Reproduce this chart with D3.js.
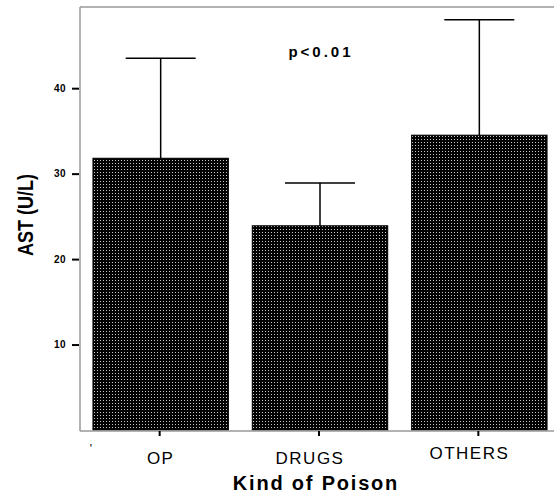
<!DOCTYPE html>
<html lang="en">
<head>
<meta charset="UTF-8">
<title>AST by Kind of Poison</title>
<script src="https://d3js.org/d3.v7.min.js"></script>
<style>
  body {margin:0; background:#fff;}
  text {font-family: Arial, "Liberation Sans", sans-serif;}
</style>
</head>
<body>
<div id="chart"></div>
<script>
// data
var kinds = ["OP", "DRUGS", "OTHERS"];
var means = [31.8, 23.9, 34.5];
var upper = [43.5, 28.9, 48.0];
var yTicks = [10, 20, 30, 40];

var w = 554, h = 498;
var pLeft = 80, pTop = 7, pBottom = 431, pRight = 554;

var svg = d3.select("#chart").append("svg")
    .attr("width", w)
    .attr("height", h);

// dotted fill like the original bars
var defs = svg.append("defs");
var pat = defs.append("pattern")
    .attr("id", "dots")
    .attr("width", 3).attr("height", 3)
    .attr("patternUnits", "userSpaceOnUse");
pat.append("rect").attr("width", 3).attr("height", 3).attr("fill", "#000");
pat.append("rect").attr("x", 1).attr("y", 1).attr("width", 1).attr("height", 1).attr("fill", "#c8c8c8");

var x = d3.scaleBand().domain(kinds).range([pLeft + 1, 559]).paddingInner(0.15).paddingOuter(0.075);
var y = d3.scaleLinear().domain([0, 49.5]).range([pBottom - 1, pTop]);

// frame
svg.append("line").attr("x1", pLeft).attr("x2", pRight).attr("y1", pTop).attr("y2", pTop)
    .attr("stroke", "#999").attr("stroke-width", 1.5);
svg.append("line").attr("x1", pLeft).attr("x2", pLeft).attr("y1", pTop).attr("y2", pBottom)
    .attr("stroke", "#999").attr("stroke-width", 1.5);

// bars
svg.selectAll("rect.bar").data(kinds).enter().append("rect")
    .attr("class", "bar")
    .attr("x", function(d) {return x(d);})
    .attr("y", function(d, i) {return y(means[i]);})
    .attr("width", x.bandwidth())
    .attr("height", function(d, i) {return y(0) - y(means[i]);})
    .attr("fill", "url(#dots)")
    .attr("stroke", "#000")
    .attr("stroke-width", 1);

// error bars
var capW = 35;
svg.selectAll("line.err").data(kinds).enter().append("line")
    .attr("class", "err")
    .attr("x1", function(d) {return x(d) + x.bandwidth() / 2;})
    .attr("x2", function(d) {return x(d) + x.bandwidth() / 2;})
    .attr("y1", function(d, i) {return y(means[i]);})
    .attr("y2", function(d, i) {return y(upper[i]);})
    .attr("stroke", "#000").attr("stroke-width", 1.5);
svg.selectAll("line.cap").data(kinds).enter().append("line")
    .attr("class", "cap")
    .attr("x1", function(d) {return x(d) + x.bandwidth() / 2 - capW;})
    .attr("x2", function(d) {return x(d) + x.bandwidth() / 2 + capW;})
    .attr("y1", function(d, i) {return y(upper[i]);})
    .attr("y2", function(d, i) {return y(upper[i]);})
    .attr("stroke", "#000").attr("stroke-width", 1.5);

// y axis
var yAxis = d3.axisLeft(y).tickValues(yTicks).tickSize(7).tickPadding(6);
var gy = svg.append("g").attr("transform", "translate(" + (pLeft - 1) + ",0)").call(yAxis);
gy.select(".domain").remove();
gy.selectAll(".tick line").attr("stroke", "#000").attr("stroke-width", 2);
gy.selectAll(".tick text").attr("font-size", "10px").attr("font-weight", "bold")
    .attr("letter-spacing", "0.5px").attr("fill", "#000");

// x axis
svg.append("line").attr("x1", pLeft).attr("x2", pRight).attr("y1", pBottom).attr("y2", pBottom)
    .attr("stroke", "#999").attr("stroke-width", 1.5);
var xAxis = d3.axisBottom(x).tickSize(5).tickPadding(17);
var gx = svg.append("g").attr("transform", "translate(-1," + pBottom + ")").call(xAxis);
gx.select(".domain").remove();
gx.selectAll(".tick line").attr("stroke", "#000").attr("stroke-width", 2);
gx.selectAll(".tick text").attr("font-size", "17px").attr("fill", "#000")
    .attr("letter-spacing", "1.5px")
    .attr("dx", function(d, i) {return i == 0 ? "1" : "-9";})
    .attr("dy", function(d) {return d == "OTHERS" ? "0.35em" : "0.62em";});

svg.append("text").attr("x", 91).attr("y", 453).attr("text-anchor", "middle")
    .attr("font-size", "12px").attr("fill", "#000").text("'");

// titles
svg.append("text")
    .attr("x", 316).attr("y", 490)
    .attr("text-anchor", "middle")
    .attr("font-size", "20px").attr("font-weight", "bold")
    .attr("letter-spacing", "1.8px")
    .text("Kind of Poison");

svg.append("text")
    .attr("transform", "translate(33,215) rotate(-90) scale(0.82,1)")
    .attr("text-anchor", "middle")
    .attr("font-size", "22px").attr("font-weight", "bold")
    .text("AST (U/L)");

svg.append("text")
    .attr("x", 321).attr("y", 57)
    .attr("text-anchor", "middle")
    .attr("font-size", "15px").attr("font-weight", "bold")
    .attr("letter-spacing", "3px")
    .text("p<0.01");
</script>
</body>
</html>
